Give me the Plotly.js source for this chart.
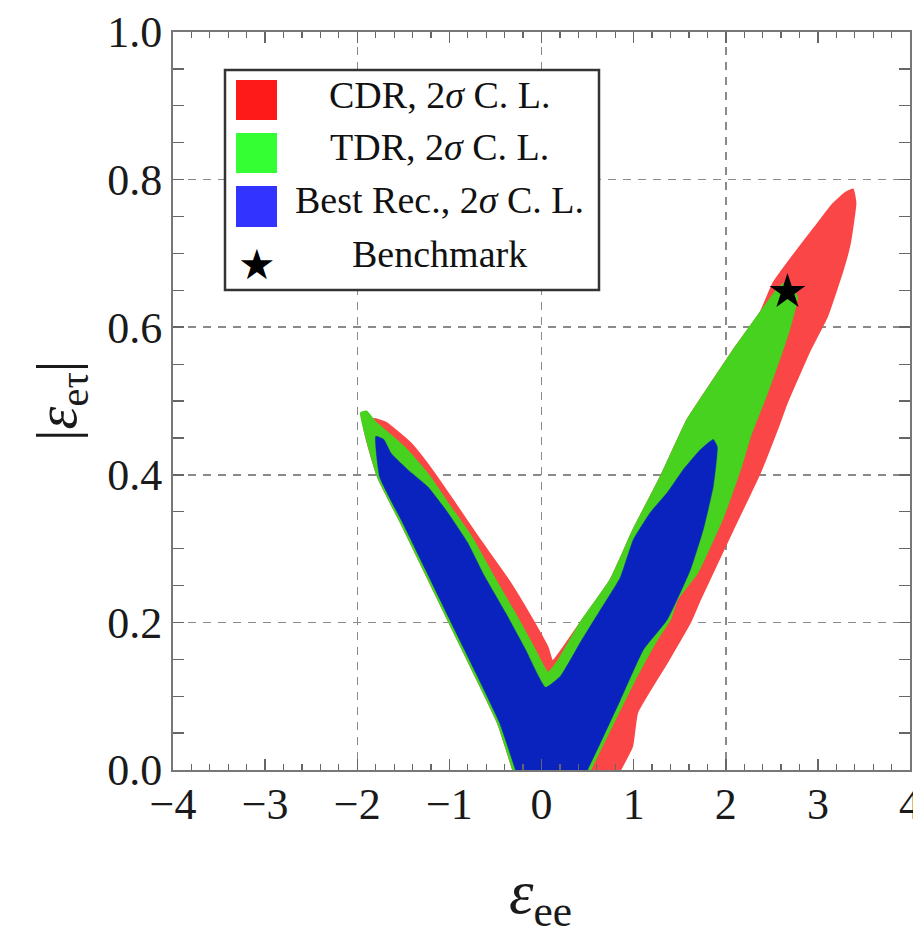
<!DOCTYPE html>
<html>
<head>
<meta charset="utf-8">
<script src="https://cdn.plot.ly/plotly-3.0.1.min.js"></script>
<style>html,body{margin:0;padding:0;background:#fff;}#chart{width:913px;height:934px;}</style>
</head>
<body>
<div id="chart"></div>
<script>
// ---- data ----
const cdrX = [-0.31,-0.477,-0.737,-1.019,-1.279,-1.528,-1.778,-1.93,
  -1.821,-1.69,-1.42,-1.19,-0.94,-0.69,-0.36,-0.13,0.07,0.12,
  0.423,0.748,0.997,1.290,1.583,1.724,2.081,2.374,2.515,2.753,2.970,3.154,3.295,3.38,3.41,
  3.350,3.274,3.100,2.916,2.667,2.558,2.374,2.081,1.724,1.615,1.366,1.041,0.986,0.856];
const cdrY = [0,0.064,0.132,0.204,0.271,0.335,0.397,0.468,
  0.476,0.471,0.443,0.407,0.362,0.316,0.258,0.211,0.166,0.148,
  0.200,0.258,0.326,0.397,0.475,0.502,0.569,0.620,0.660,0.701,0.736,0.766,0.782,0.787,0.768,
  0.714,0.678,0.614,0.569,0.498,0.461,0.403,0.326,0.231,0.200,0.146,0.078,0.032,0];

const tdrX = [-0.31,-0.477,-0.737,-1.019,-1.279,-1.528,-1.778,-1.962,
  -1.90,-1.80,-1.62,-1.43,-1.21,-0.99,-0.76,-0.50,-0.29,-0.10,0.07,
  0.173,0.423,0.748,0.997,1.290,1.583,1.724,2.081,2.374,2.558,2.667,
  2.775,2.699,2.591,2.450,2.266,2.157,1.973,1.691,1.474,1.398,1.257,0.997,0.640,0.531];
const tdrY = [0,0.064,0.132,0.204,0.271,0.335,0.397,0.484,
  0.486,0.471,0.452,0.430,0.397,0.357,0.316,0.258,0.213,0.170,0.132,
  0.147,0.200,0.258,0.326,0.397,0.475,0.502,0.569,0.620,0.651,0.662,
  0.641,0.601,0.560,0.511,0.452,0.407,0.343,0.267,0.231,0.204,0.177,0.118,0.028,0];

const bestX = [-0.282,-0.455,-0.715,-0.997,-1.257,-1.507,-1.756,-1.799,
  -1.713,-1.637,-1.604,-1.453,-1.236,-1.019,-0.802,-0.629,-0.390,-0.173,0.043,
  0.206,0.423,0.640,0.856,0.997,1.182,1.366,1.539,1.724,1.864,
  1.908,1.864,1.756,1.615,1.366,1.106,0.856,0.640,0.499];
const bestY = [0,0.064,0.132,0.204,0.271,0.335,0.397,0.452,
  0.448,0.430,0.425,0.407,0.384,0.349,0.308,0.265,0.213,0.163,0.112,
  0.127,0.173,0.217,0.261,0.312,0.349,0.376,0.407,0.434,0.448,
  0.438,0.384,0.326,0.271,0.204,0.163,0.095,0.037,0];

const benchX = [2.67];
const benchY = [0.648];

const legendLabels = ['CDR, 2<i>σ</i> C. L.', 'TDR, 2<i>σ</i> C. L.', 'Best Rec., 2<i>σ</i> C. L.', 'Benchmark'];
const xTitle = '<i>ε</i><sub>ee</sub>';
const yTitle = '|<i>ε</i><sub>eτ</sub>|';

// ---- styling ----
const SERIF = '"Liberation Serif", "Times New Roman", Times, serif';
const cRed = '#fa4646', cGreen = '#46d21e', cBlue = '#0a23be';
const legRed = '#ff1a1a', legGreen = '#33ff33', legBlue = '#3333ff';

function region(x, y, col, lw) {
  return {x: x, y: y, type: 'scatter', mode: 'lines', fill: 'toself',
    fillcolor: col, line: {color: col, width: lw, shape: 'spline', smoothing: 0.4},
    hoverinfo: 'skip', showlegend: false};
}

const traces = [
  region(cdrX, cdrY, cRed, 1.5),
  region(tdrX, tdrY, cGreen, 1.5),
  region(bestX, bestY, cBlue, 0.5),
  {x: benchX, y: benchY, type: 'scatter', mode: 'markers',
   marker: {symbol: 'star', size: 27, color: '#000'}, hoverinfo: 'skip', showlegend: false},
  {x: [], y: [], xaxis: 'x2', yaxis: 'y', type: 'scatter', mode: 'markers', showlegend: false}
];

// plot area in pixels: x 173..910, y 32..770
const L = 173, R = 910, T = 32, B = 770;
const px = v => (v - L) / (R - L);
const py = v => (B - v) / (B - T);

const shapes = [
  {type: 'rect', xref: 'paper', yref: 'paper', x0: px(225), x1: px(599), y0: py(290), y1: py(70),
   line: {color: '#333', width: 2.5}, fillcolor: '#fff', layer: 'above'},
  {type: 'rect', xref: 'paper', yref: 'paper', x0: px(236), x1: px(277), y0: py(120), y1: py(80),
   line: {width: 0}, fillcolor: legRed, layer: 'above'},
  {type: 'rect', xref: 'paper', yref: 'paper', x0: px(236), x1: px(277), y0: py(173), y1: py(133),
   line: {width: 0}, fillcolor: legGreen, layer: 'above'},
  {type: 'rect', xref: 'paper', yref: 'paper', x0: px(236), x1: px(277), y0: py(227), y1: py(186),
   line: {width: 0}, fillcolor: legBlue, layer: 'above'}
];

const legY = [95, 147, 200, 254];
const annotations = legendLabels.map((t, i) => ({
  xref: 'paper', yref: 'paper', x: px(439), y: py(legY[i]), text: t, showarrow: false,
  xanchor: 'center', yanchor: 'middle', font: {family: SERIF, size: 38, color: '#111'}
}));
annotations.push({xref: 'paper', yref: 'paper', x: px(257), y: py(264), text: '★', showarrow: false,
  xanchor: 'center', yanchor: 'middle', font: {family: 'DejaVu Sans', size: 42, color: '#000'}});
annotations.push({xref: 'paper', yref: 'paper', x: px(540), y: py(896), text: xTitle, showarrow: false,
  xanchor: 'center', yanchor: 'middle', font: {family: SERIF, size: 62, color: '#1a1a1a'}});
annotations.push({xref: 'paper', yref: 'paper', x: px(60), y: py(401), text: yTitle, showarrow: false,
  textangle: -90, xanchor: 'center', yanchor: 'middle', font: {family: SERIF, size: 58, color: '#1a1a1a'}});

const tickFont = {family: SERIF, size: 44, color: '#1a1a1a'};
const layout = {
  width: 913, height: 934,
  margin: {l: L, r: 913 - R, t: T, b: 934 - B, pad: 0},
  paper_bgcolor: '#fff', plot_bgcolor: '#fff',
  showlegend: false,
  xaxis: {range: [-4, 4], tick0: 0, dtick: 1, ticks: 'inside', ticklen: 11, tickwidth: 1.5, tickcolor: '#666',
    minor: {dtick: 0.2, ticks: 'inside', ticklen: 6, tickwidth: 1.2, tickcolor: '#666', showgrid: false},
    showline: true, linecolor: '#777', linewidth: 2, mirror: 'allticks', showgrid: false, zeroline: false,
    tickfont: tickFont, ticklabeloverflow: 'allow', ticklabelstandoff: -6, fixedrange: true},
  xaxis2: {range: [-4, 4], overlaying: 'x', tick0: 0, dtick: 2, showgrid: true, gridcolor: '#8a8a8a',
    gridwidth: 1.5, griddash: '8px,7px', showticklabels: false, ticks: '', showline: false, zeroline: false},
  yaxis: {range: [0, 1], tick0: 0, dtick: 0.2, tickformat: '.1f', ticks: 'inside', ticklen: 11, tickwidth: 1.5,
    tickcolor: '#666',
    minor: {dtick: 0.05, ticks: 'inside', ticklen: 6, tickwidth: 1.2, tickcolor: '#666', showgrid: false},
    showline: true, linecolor: '#777', linewidth: 2, mirror: 'allticks', showgrid: true, gridcolor: '#8a8a8a',
    gridwidth: 1.5, griddash: '8px,7px', zeroline: false, tickfont: tickFont, ticklabeloverflow: 'allow',
    fixedrange: true},
  shapes: shapes,
  annotations: annotations
};

Plotly.newPlot('chart', traces, layout, {displayModeBar: false, staticPlot: true});
</script>
</body>
</html>
